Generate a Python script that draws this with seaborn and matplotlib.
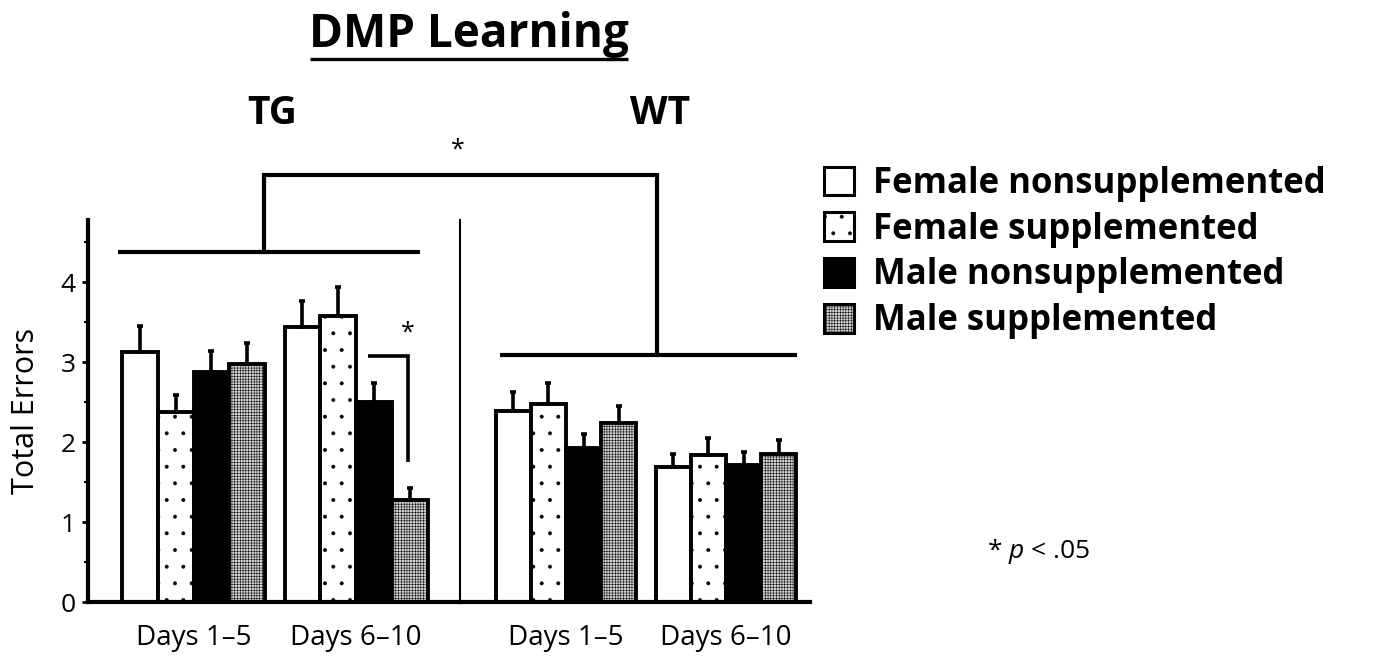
import matplotlib
matplotlib.use("Agg")
import matplotlib.pyplot as plt
import seaborn as sns
import pandas as pd
import numpy as np
from matplotlib.lines import Line2D
from matplotlib.patches import Patch
from matplotlib.ticker import FixedLocator
from matplotlib.font_manager import FontProperties

# ---------------- data ----------------
groups = ["Female nonsupplemented", "Female supplemented",
          "Male nonsupplemented", "Male supplemented"]
periods = ["Days 1–5", "Days 6–10"]
genotypes = ["TG", "WT"]

tg_days_1_5 = [3.12, 2.38, 2.88, 2.97]
tg_days_6_10 = [3.44, 3.57, 2.50, 1.27]
wt_days_1_5 = [2.39, 2.48, 1.93, 2.24]
wt_days_6_10 = [1.69, 1.84, 1.71, 1.85]

tg_err_1_5 = [0.33, 0.21, 0.26, 0.27]
tg_err_6_10 = [0.32, 0.37, 0.24, 0.15]
wt_err_1_5 = [0.24, 0.26, 0.17, 0.21]
wt_err_6_10 = [0.16, 0.21, 0.16, 0.18]

yticks = [0, 1, 2, 3, 4]

# ---------------- style ----------------
sns.set_style("ticks")
plt.rcParams["font.family"] = ["Open Sans", "DejaVu Sans"]
plt.rcParams["hatch.linewidth"] = 0.35
plt.rcParams["mathtext.fontset"] = "custom"
plt.rcParams["mathtext.rm"] = "Open Sans"
plt.rcParams["mathtext.it"] = "Open Sans:italic"
for k in ["text.color", "axes.labelcolor", "xtick.color", "ytick.color",
          "axes.edgecolor"]:
    plt.rcParams[k] = "black"

face_colors = ["white", "white", "black", "#d2d2d2"]
hatches = [None, ".", None, "++++++"]

W, H = 1376, 660
fig = plt.figure(figsize=(W / 100, H / 100), dpi=100)
fig.patch.set_facecolor("white")


def px_axes(x0, y_top, x1, y_bot):
    return fig.add_axes([x0 / W, 1 - y_bot / H, (x1 - x0) / W, (y_bot - y_top) / H])


ax_tg = px_axes(88, 220, 460, 602)
ax_wt = px_axes(460, 220, 810, 602)


def make_df(m15, m610):
    return pd.DataFrame({
        "period": [periods[0]] * 4 + [periods[1]] * 4,
        "group": groups * 2,
        "errors": list(m15) + list(m610),
    })


panels = [
    (ax_tg, make_df(tg_days_1_5, tg_days_6_10), tg_err_1_5, tg_err_6_10, (-0.65, 1.64)),
    (ax_wt, make_df(wt_days_1_5, wt_days_6_10), wt_err_1_5, wt_err_6_10, (-0.6625, 1.525)),
]

for ax, df, e15, e610, xl in panels:
    sns.barplot(data=df, x="period", y="errors", hue="group",
                order=periods, hue_order=groups,
                palette=dict(zip(groups, face_colors)),
                errorbar=None, width=0.88, linewidth=2.8, edgecolor="black",
                legend=False, ax=ax)
    bar_conts = list(ax.containers)
    for i, cont in enumerate(bar_conts):
        errs = [e15[i], e610[i]]
        xs, ys = [], []
        for p in cont.patches:
            if hatches[i]:
                p.set_hatch(hatches[i])
            xs.append(p.get_x() + p.get_width() / 2)
            ys.append(p.get_height())
        ax.errorbar(xs, ys, yerr=[np.zeros(len(errs)), errs], fmt="none",
                    ecolor="black", elinewidth=2.6, capsize=2, capthick=2.6,
                    zorder=1)
    ax.set_xlim(*xl)
    ax.set_ylim(0, 4.775)
    ax.set_xlabel("")
    ax.set_ylabel("")
    ax.tick_params(axis="x", length=0, pad=16, labelsize=20)
    for s in ["top", "right"]:
        ax.spines[s].set_visible(False)
    ax.spines["bottom"].set_linewidth(3)
    ax.patch.set_alpha(0)

# TG axis (left, with y scale)
ax_tg.set_yticks(yticks)
ax_tg.yaxis.set_minor_locator(FixedLocator([0.5, 1.5, 2.5, 3.5, 4.5]))
ax_tg.tick_params(axis="y", which="major", length=4, width=2, pad=5, labelsize=19)
ax_tg.tick_params(axis="y", which="minor", length=3, width=1.5)
ax_tg.spines["left"].set_linewidth(3)
ax_tg.set_ylabel("Total Errors", fontsize=22)
ax_tg.yaxis.set_label_coords(-0.125, 0.5)

# WT axis: thin separator line, no y labels
ax_wt.spines["left"].set_linewidth(1.5)
ax_wt.tick_params(axis="y", which="both", length=0, labelleft=False)
ax_wt.set_yticks([])


# ---------------- annotations ----------------
def fig_line(xs, ys, lw):
    fig.add_artist(Line2D([x / W for x in xs], [1 - y / H for y in ys],
                          color="black", linewidth=lw,
                          solid_capstyle="butt", solid_joinstyle="miter"))


# genotype comparison bracket
fig_line([118, 420], [252, 252], 3)
fig_line([264, 264, 657, 657], [252, 175, 175, 355], 3)
fig_line([500, 797], [355, 355], 3)
fig.text(458 / W, 1 - 150 / H, "*", ha="center", va="center", fontsize=18)

# within-TG bracket
fig_line([368, 408, 408], [356, 356, 462], 2.6)
fig.text(408 / W, 1 - 333 / H, "*", ha="center", va="center", fontsize=18)

# title with underline
fig.text(469 / W, 1 - 34 / H, "DMP Learning", ha="center", va="center",
         fontsize=33, fontweight="bold")
fig_line([310, 628], [59, 59], 2.4)

fig.text(272 / W, 1 - 114 / H, "TG", ha="center", va="center",
         fontsize=28, fontweight="bold")
fig.text(660 / W, 1 - 114 / H, "WT", ha="center", va="center",
         fontsize=28, fontweight="bold")

fig.text(1038 / W, 1 - 551 / H, r"* $\it{p}$ < .05", ha="center", va="center",
         fontsize=19)

# legend
handles = [Patch(facecolor=face_colors[i], edgecolor="black", hatch=hatches[i],
                 linewidth=2.2) for i in range(4)]
fig.legend(handles, groups, loc="upper left",
           bbox_to_anchor=(824 / W, 1 - 166 / H), frameon=False,
           prop=FontProperties(family="Open Sans", weight="bold", size=25),
           handlelength=0.85, handleheight=0.9, handletextpad=0.55,
           labelspacing=0.28, borderaxespad=0, borderpad=0)

fig.savefig("out.png", dpi=100, facecolor="white")
